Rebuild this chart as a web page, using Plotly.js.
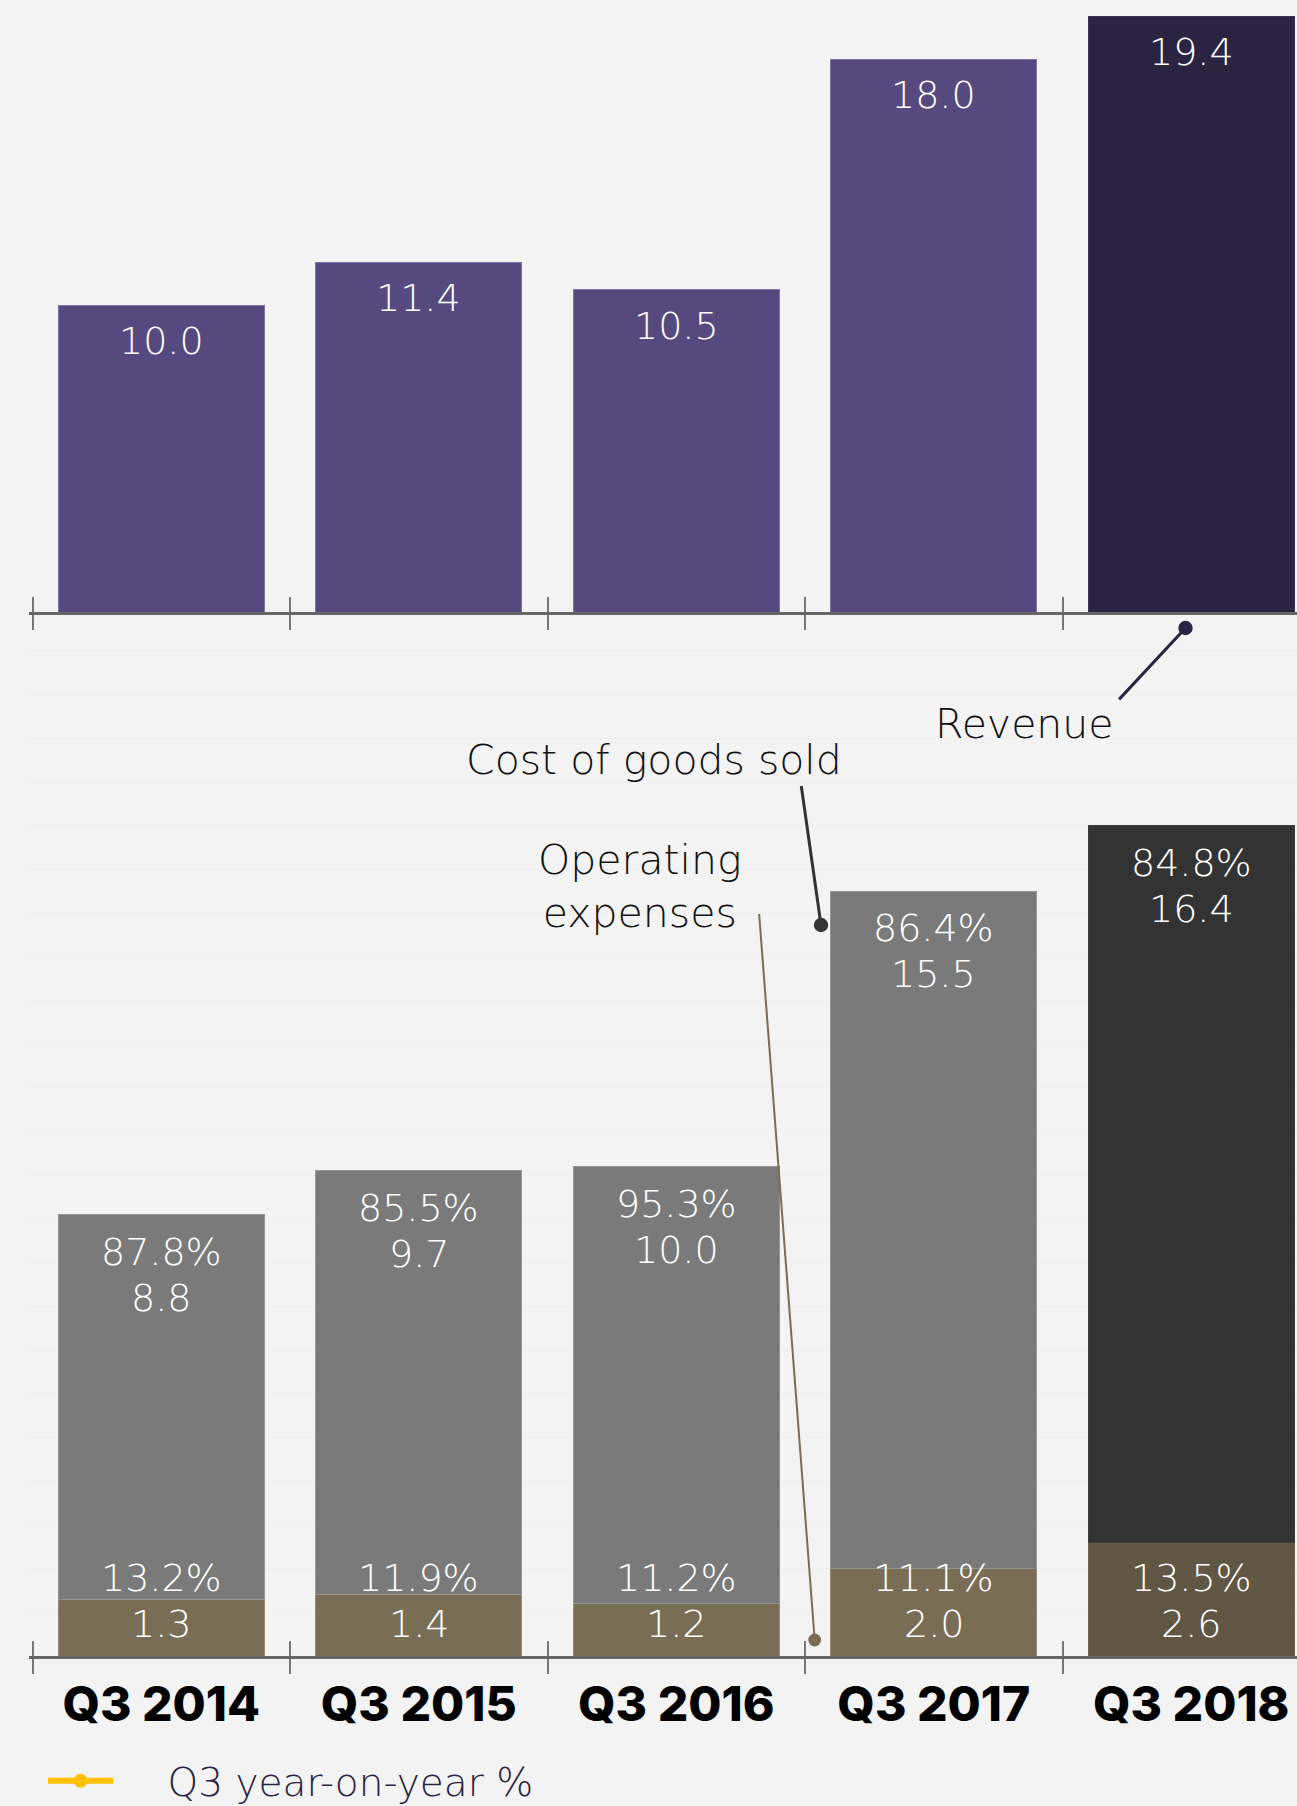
<!DOCTYPE html>
<html>
<head>
<meta charset="utf-8">
<script src="https://cdn.plot.ly/plotly-3.0.1.min.js"></script>
<style>
  html, body { margin: 0; padding: 0; background: #f3f3f3; overflow: hidden; }
  #chart { width: 1297px; height: 1806px; }
</style>
</head>
<body>
<div id="chart"></div>
<script>
// ---- data ----
const categories = ['Q3 2014', 'Q3 2015', 'Q3 2016', 'Q3 2017', 'Q3 2018'];
const revenue = [10.0, 11.4, 10.5, 18.0, 19.4];
const cogs = [8.8, 9.7, 10.0, 15.5, 16.4];
const cogsPct = ['87.8%', '85.5%', '95.3%', '86.4%', '84.8%'];
const opex = [1.3, 1.4, 1.2, 2.0, 2.6];
const opexPct = ['13.2%', '11.9%', '11.2%', '11.1%', '13.5%'];
const legendName = 'Q3 year-on-year %';
const calloutLabels = ['Revenue', 'Cost of goods sold', 'Operating<br>expenses'];

// ---- layout helpers ----
const W = 1297, H = 1806;
const px = x => x / W;
const py = y => (H - y) / H;
const last = categories.length - 1;
const pick = (normal, highlight) => categories.map((c, i) => i === last ? highlight : normal);

const LIGHT = '"DejaVu Sans", "Noto Sans", sans-serif';
const VALUE_FONT = {family: LIGHT, size: 38, color: '#ffffff', weight: 200};
const LABEL_FONT = {family: LIGHT, size: 41, color: '#111111', weight: 200};

const traces = [
  {
    type: 'bar', x: categories, y: revenue, xaxis: 'x', yaxis: 'y',
    marker: {color: pick('#564980', '#2a2342'), line: {color: pick('#7e73a6', '#3a3352'), width: 1}},
    showlegend: false, hoverinfo: 'x+y'
  },
  {
    type: 'bar', x: categories, y: opex, xaxis: 'x2', yaxis: 'y2',
    marker: {color: pick('#7a6d55', '#5f5643'), line: {color: pick('#948a77', '#6e6655'), width: 1}},
    showlegend: false, hoverinfo: 'x+y'
  },
  {
    type: 'bar', x: categories, y: cogs, xaxis: 'x2', yaxis: 'y2',
    marker: {color: pick('#7a7a7a', '#333333'), line: {color: pick('#959595', '#3d3d3d'), width: 1}},
    showlegend: false, hoverinfo: 'x+y'
  },
  // carriers for the overlaid tick axes (ticks crossing the baseline); draw nothing
  {type: 'scatter', mode: 'markers', x: categories, y: categories.map(() => null), xaxis: 'x3', yaxis: 'y',
    showlegend: false, hoverinfo: 'skip'},
  {type: 'scatter', mode: 'markers', x: categories, y: categories.map(() => null), xaxis: 'x4', yaxis: 'y2',
    showlegend: false, hoverinfo: 'skip'},
  {
    type: 'scatter', mode: 'lines+markers', x: [null], y: [null], xaxis: 'x', yaxis: 'y',
    name: '\u00a0\u00a0\u00a0\u00a0' + legendName, line: {color: '#ffc000', width: 6},
    marker: {color: '#ffc000', size: 14}, showlegend: true
  }
];

const annotations = [];
function valueLabel(x, y, xref, yref, text, shift) {
  annotations.push({x: x, y: y, xref: xref, yref: yref, text: text, showarrow: false,
    yanchor: 'middle', yshift: shift, font: VALUE_FONT});
}
categories.forEach((c, i) => {
  valueLabel(c, revenue[i], 'x', 'y', revenue[i].toFixed(1), -36);
  valueLabel(c, opex[i] + cogs[i], 'x2', 'y2', cogsPct[i], -37);
  valueLabel(c, opex[i] + cogs[i], 'x2', 'y2', cogs[i].toFixed(1), -83);
  valueLabel(c, 0, 'x2', 'y2', opexPct[i], 78);
  valueLabel(c, 0, 'x2', 'y2', opex[i].toFixed(1), 32);
});

annotations.push({x: px(1024), y: py(724), xref: 'paper', yref: 'paper', text: calloutLabels[0],
  showarrow: false, xanchor: 'center', yanchor: 'middle', font: LABEL_FONT});
annotations.push({x: px(654), y: py(760), xref: 'paper', yref: 'paper', text: calloutLabels[1],
  showarrow: false, xanchor: 'center', yanchor: 'middle', font: LABEL_FONT});
annotations.push({x: px(640), y: py(886), xref: 'paper', yref: 'paper', text: calloutLabels[2],
  showarrow: false, xanchor: 'center', yanchor: 'middle', font: LABEL_FONT});

function leader(tipX, tipY, tailX, tailY, color, width, size) {
  annotations.push({x: px(tipX), y: py(tipY), xref: 'paper', yref: 'paper', text: ' ',
    showarrow: true, arrowhead: 6, arrowsize: size, arrowwidth: width, arrowcolor: color,
    ax: tailX - tipX, ay: tailY - tipY, standoff: 0, startstandoff: 0, font: {size: 1}});
}
leader(1185.5, 628, 1117.6, 701, '#2a2342', 3, 1.2);
leader(821, 925, 801, 784, '#333333', 3, 1.2);
leader(814.7, 1640, 759, 912, '#7a6d55', 2, 1.6);

const STEP = 257.5, FIRST = 32.5, PAD = 0.012;
const xRange = [-0.5 - PAD, -0.5 + (W - FIRST) / STEP];
const xDomain = [px(FIRST - PAD * STEP), 1];
const baseX = {
  type: 'category', categoryorder: 'array', categoryarray: categories,
  range: xRange, domain: xDomain, tickson: 'boundaries', ticklen: 15, tickwidth: 2,
  tickcolor: '#777777', fixedrange: true, showgrid: false, zeroline: false
};

const layout = {
  width: W, height: H,
  margin: {l: 0, r: 0, t: 0, b: 0, autoexpand: false},
  paper_bgcolor: '#f3f3f3', plot_bgcolor: '#f3f3f3',
  barmode: 'stack', bargap: 0.2,
  showlegend: true,
  legend: {x: px(43), y: py(1781), xanchor: 'left', yanchor: 'middle', bgcolor: 'rgba(0,0,0,0)',
    itemwidth: 65, font: {family: LIGHT, size: 39, color: '#2a2342', weight: 200}},
  xaxis: Object.assign({}, baseX, {anchor: 'y', ticks: 'outside', showline: true, linecolor: '#666666',
    linewidth: 3, showticklabels: false}),
  xaxis3: Object.assign({}, baseX, {anchor: 'y', overlaying: 'x', ticks: 'inside', showline: false,
    showticklabels: false}),
  yaxis: {domain: [py(612), 1], range: [0, 612 / 30.7], visible: false, showgrid: false, zeroline: false,
    fixedrange: true},
  xaxis2: Object.assign({}, baseX, {anchor: 'y2', ticks: 'outside', showline: true, linecolor: '#666666',
    linewidth: 3, showticklabels: true, ticklabelstandoff: 4,
    tickfont: {family: 'Inter, Roboto, sans-serif', size: 48, color: '#000000', weight: 800}}),
  xaxis4: Object.assign({}, baseX, {anchor: 'y2', overlaying: 'x2', ticks: 'inside', showline: false,
    showticklabels: false}),
  yaxis2: {domain: [py(1656), py(638)], range: [0, (1656 - 638) / 43.7], dtick: 1, showgrid: true,
    gridcolor: '#efefef', gridwidth: 1, zeroline: false, showticklabels: false, ticks: '',
    showline: false, fixedrange: true},
  annotations: annotations
};

Plotly.newPlot('chart', traces, layout, {displayModeBar: false, staticPlot: true});
</script>
</body>
</html>
